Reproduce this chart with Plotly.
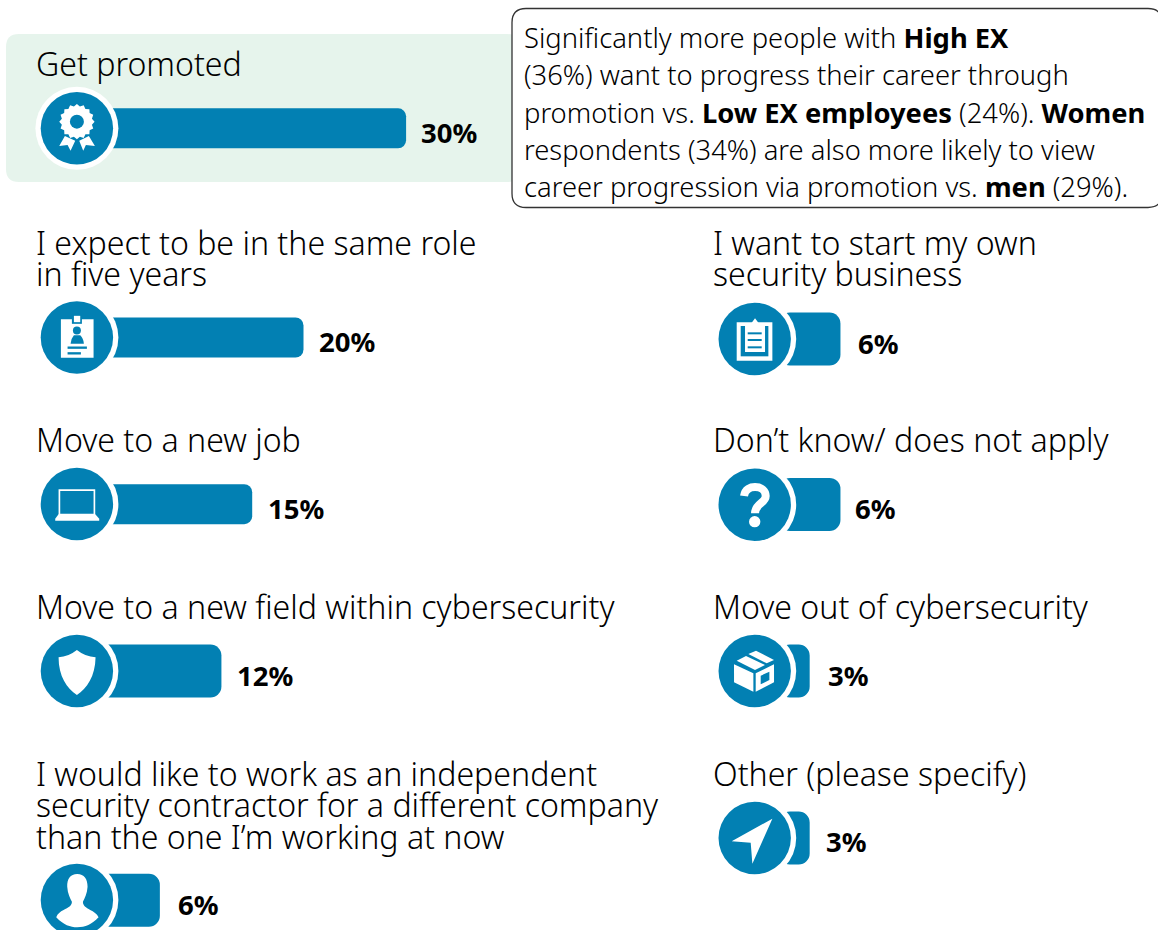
import math
import plotly.graph_objects as go

FONT = "Noto Sans"
BLUE = "#0280b3"

categories_left = [
    "Get promoted",
    "I expect to be in the same role<br>in five years",
    "Move to a new job",
    "Move to a new field within cybersecurity",
    "I would like to work as an independent<br>security contractor for a different company<br>than the one I’m working at now",
]
values_left = [30, 20, 15, 12, 6]

categories_right = [
    "I want to start my own<br>security business",
    "Don’t know/ does not apply",
    "Move out of cybersecurity",
    "Other (please specify)",
]
values_right = [6, 6, 3, 3]

callout_lines = [
    "Significantly more people with <b>High EX</b>",
    "(36%) want to progress their career through",
    "promotion vs. <b>Low EX employees</b> (24%). <b>Women</b>",
    "respondents (34%) are also more likely to view",
    "career progression via promotion vs. <b>men</b> (29%).",
]

# layout of the rows, in page pixels
PX_PER_PCT = 10.26
ZERO_LEFT = 98.3
ZERO_RIGHT = 778.9
left_bar_y = [128.3, 337.5, 504.2, 671, 900.3]
left_bar_h = [40, 40, 40, 53, 53]
left_circle_y = [128.3, 337.5, 504, 671, 900]
left_label_y = [63.5, 242.5, 439.5, 606.5, 773.5]
left_value_y = [132, 341, 508, 675, 904]
left_value_gap = [13, 13, 14, 14, 16]
right_bar_y = [339, 504.4, 671, 838]
right_bar_h = [53, 53, 53, 53]
right_circle_y = [339, 504.7, 671, 838]
right_label_y = [242.5, 439.5, 606.5, 773.5]
right_value_y = [343, 508, 675, 841]
right_value_gap = [16, 13, 16, 14]
LINE_STEP = 31.4


def icon(path, cx, cy, ox, oy):
    # path is written in 3x crop units round (ox, oy), turned into page pixels
    out = []
    is_x = True
    for tok in path.split():
        if tok.isalpha():
            out.append(tok)
        elif is_x:
            out.append(f"{cx + (float(tok) - ox) / 3:.2f}")
            is_x = False
        else:
            out.append(f"{cy + (float(tok) - oy) / 3:.2f}")
            is_x = True
    return " ".join(out)


def shape_path(path, fill="white", line=None, width=0):
    return dict(type="path", path=path, xref="x", yref="y", fillcolor=fill,
                line=dict(color=line or "rgba(0,0,0,0)", width=width), layer="above")


def circle(cx, cy, r, color):
    return dict(type="circle", xref="x", yref="y", x0=cx - r, x1=cx + r, y0=cy - r, y1=cy + r,
                fillcolor=color, line=dict(width=0), layer="above")


def rect_path(x0, y0, x1, y1):
    return f"M {x0} {y0} L {x1} {y0} L {x1} {y1} L {x0} {y1} Z"


def rounded_rect(x0, y0, x1, y1, r):
    return (f"M {x0 + r} {y0} L {x1 - r} {y0} Q {x1} {y0} {x1} {y0 + r} L {x1} {y1 - r} "
            f"Q {x1} {y1} {x1 - r} {y1} L {x0 + r} {y1} Q {x0} {y1} {x0} {y1 - r} "
            f"L {x0} {y0 + r} Q {x0} {y0} {x0 + r} {y0} Z")


def badge_icon(cx, cy):
    ox, oy = 231, 325
    pts = []
    for i in range(32):
        a = i * math.pi / 16
        r = 53 if i % 2 == 0 else 46
        pts.append(f"{231 + r * math.cos(a):.1f} {305 + r * math.sin(a):.1f}")
    return [shape_path(icon("M " + " L ".join(pts) + " Z", cx, cy, ox, oy)),
            circle(cx, cy - 20 / 3, 21 / 3, BLUE),
            shape_path(icon("M 178 378 L 195 348 L 226 362 L 212 392 L 203 375 Z", cx, cy, ox, oy)),
            shape_path(icon("M 285 378 L 267 348 L 238 362 L 250 392 L 258 375 Z", cx, cy, ox, oy))]


def card_icon(cx, cy):
    ox, oy = 140, 127
    return [shape_path(icon(rect_path(92, 72, 190, 188), cx, cy, ox, oy)),
            shape_path(icon(rect_path(125, 57, 155, 86), cx, cy, ox, oy), fill=BLUE),
            shape_path(icon(rect_path(131, 62, 150, 81), cx, cy, ox, oy)),
            circle(cx, cy - 21 / 3, 12 / 3, BLUE),
            shape_path(icon("M 131 120 L 150 120 Q 160 130 161 146 L 121 146 Q 122 130 131 120 Z", cx, cy, ox, oy), fill=BLUE),
            shape_path(icon(rect_path(112, 154, 170, 161), cx, cy, ox, oy), fill=BLUE),
            shape_path(icon(rect_path(112, 171, 152, 178), cx, cy, ox, oy), fill=BLUE)]


def laptop_icon(cx, cy):
    ox, oy = 140, 126
    return [shape_path(icon(rect_path(85, 82, 195, 160), cx, cy, ox, oy)),
            shape_path(icon(rect_path(90, 87, 190, 155), cx, cy, ox, oy), fill=BLUE),
            shape_path(icon("M 85 157 L 195 157 L 207 170 L 207 176 L 75 176 L 75 170 Z", cx, cy, ox, oy))]


def shield_icon(cx, cy):
    p = ("M 140 60 Q 115 80 85 82 C 85 140 110 175 140 195 "
         "C 170 175 195 140 196 82 Q 165 80 140 60 Z")
    return [shape_path(icon(p, cx, cy, 140, 123))]


def person_icon(cx, cy):
    p = ("M 141 57 C 120 57 110 72 111 95 C 112 115 120 130 125 140 C 125 152 115 157 100 165 "
         "C 90 170 82 176 78 187 C 100 210 120 217 141 217 C 165 217 185 208 205 187 "
         "C 200 176 190 170 180 165 C 167 157 158 152 158 140 C 163 130 171 115 172 95 "
         "C 172 72 162 57 141 57 Z")
    return [shape_path(icon(p, cx, cy, 140, 135))]


def clipboard_icon(cx, cy):
    ox, oy = 134, 132
    return [shape_path(icon(rect_path(80, 82, 187, 197), cx, cy, ox, oy)),
            shape_path(icon(rect_path(92, 93, 175, 184), cx, cy, ox, oy), fill=BLUE),
            shape_path(icon("M 105 90 L 120 90 L 135 70 L 150 90 L 165 90 L 165 171 L 105 171 Z", cx, cy, ox, oy)),
            shape_path(icon(rect_path(113, 112, 155, 118), cx, cy, ox, oy), fill=BLUE),
            shape_path(icon(rect_path(113, 132, 155, 138), cx, cy, ox, oy), fill=BLUE),
            shape_path(icon(rect_path(113, 154, 155, 160), cx, cy, ox, oy), fill=BLUE)]


def question_icon(cx, cy):
    ox, oy = 134, 126
    p = "M 102 100 C 105 78 122 73 135 73 C 155 73 167 85 167 100 C 167 122 135 122 135 152"
    return [shape_path(icon(p, cx, cy, ox, oy), fill="rgba(0,0,0,0)", line="white", width=8),
            circle(cx, cy + 51 / 3, 17 / 3, "white")]


def box_icon(cx, cy):
    ox, oy = 134, 123
    return [shape_path(icon("M 72 103 L 130 130 L 130 185 L 72 157 Z", cx, cy, ox, oy)),
            shape_path(icon("M 137 130 L 192 103 L 192 157 L 137 185 Z", cx, cy, ox, oy)),
            shape_path(icon("M 152 137 L 178 125 L 178 150 L 152 163 Z", cx, cy, ox, oy), fill=BLUE),
            shape_path(icon("M 80 92 L 108 78 L 165 105 L 135 120 Z", cx, cy, ox, oy)),
            shape_path(icon("M 115 72 L 138 62 L 192 90 L 170 100 Z", cx, cy, ox, oy))]


def arrow_icon(cx, cy):
    return [shape_path(icon("M 187 65 L 65 133 L 122 137 L 127 200 Z", cx, cy, 134, 123))]


left_icons = [badge_icon, card_icon, laptop_icon, shield_icon, person_icon]
right_icons = [clipboard_icon, question_icon, box_icon, arrow_icon]

fig = go.Figure()
annotations = []
shapes = [
    dict(type="path", path=rounded_rect(6, 34, 520, 182, 13), xref="x", yref="y",
         fillcolor="#e6f4ec", line=dict(width=0), layer="below"),
    dict(type="path", path=rounded_rect(512, 8.5, 1162, 207.5, 14), xref="x", yref="y",
         fillcolor="white", line=dict(color="#333333", width=1.3), layer="above"),
]


def add_column(cats, vals, bar_y, bar_h, circle_y, label_y, value_y, gaps, icons, axis, text_x, circle_x):
    for i, v in enumerate(vals):
        fig.add_trace(go.Bar(x=[v], y=[bar_y[i]], base=0, width=bar_h[i], orientation="h",
                             xaxis=axis, yaxis="y", showlegend=False, hoverinfo="skip",
                             marker=dict(color=BLUE, cornerradius=8 if bar_h[i] == 40 else 11,
                                         line=dict(width=0))))
        shapes.append(circle(circle_x, circle_y[i], 41.5, "white"))
        shapes.append(circle(circle_x, circle_y[i], 36.2, BLUE))
        shapes.extend(icons[i](circle_x, circle_y[i]))
        for n, line in enumerate(cats[i].split("<br>")):
            annotations.append(dict(x=text_x, y=label_y[i] + n * LINE_STEP, xref="x", yref="y",
                                    text=line, showarrow=False, xanchor="left", yanchor="middle",
                                    font=dict(family=FONT, size=32.1, color="black", weight=300)))
        annotations.append(dict(x=v, y=value_y[i], xref=axis, yref="y", xshift=gaps[i],
                                text=f"<b>{v}%</b>", showarrow=False, xanchor="left", yanchor="middle",
                                font=dict(family=FONT, size=27.5, color="black")))


add_column(categories_left, values_left, left_bar_y, left_bar_h, left_circle_y, left_label_y,
           left_value_y, left_value_gap, left_icons, "x2", 34, 76.9)
add_column(categories_right, values_right, right_bar_y, right_bar_h, right_circle_y, right_label_y,
           right_value_y, right_value_gap, right_icons, "x3", 711, 754.7)

for n, line in enumerate(callout_lines):
    annotations.append(dict(x=522, y=37.5 + n * 37.3, xref="x", yref="y", text=line, showarrow=False,
                            xanchor="left", yanchor="middle",
                            font=dict(family=FONT, size=27.35, color="black", weight=300)))

hidden = dict(visible=False, fixedrange=True)
fig.update_layout(
    width=1158, height=930, margin=dict(l=0, r=0, t=0, b=0),
    paper_bgcolor="white", plot_bgcolor="white", barmode="overlay",
    shapes=shapes, annotations=annotations,
    xaxis=dict(range=[0, 1158], **hidden),
    xaxis2=dict(range=[-ZERO_LEFT / PX_PER_PCT, (1158 - ZERO_LEFT) / PX_PER_PCT],
                overlaying="x", anchor="y", **hidden),
    xaxis3=dict(range=[-ZERO_RIGHT / PX_PER_PCT, (1158 - ZERO_RIGHT) / PX_PER_PCT],
                overlaying="x", anchor="y", **hidden),
    yaxis=dict(range=[930, 0], **hidden),
)

fig.write_html("out.html", config={"displayModeBar": False},
               post_script="document.body.style.margin='0';document.body.style.overflow='hidden';")
